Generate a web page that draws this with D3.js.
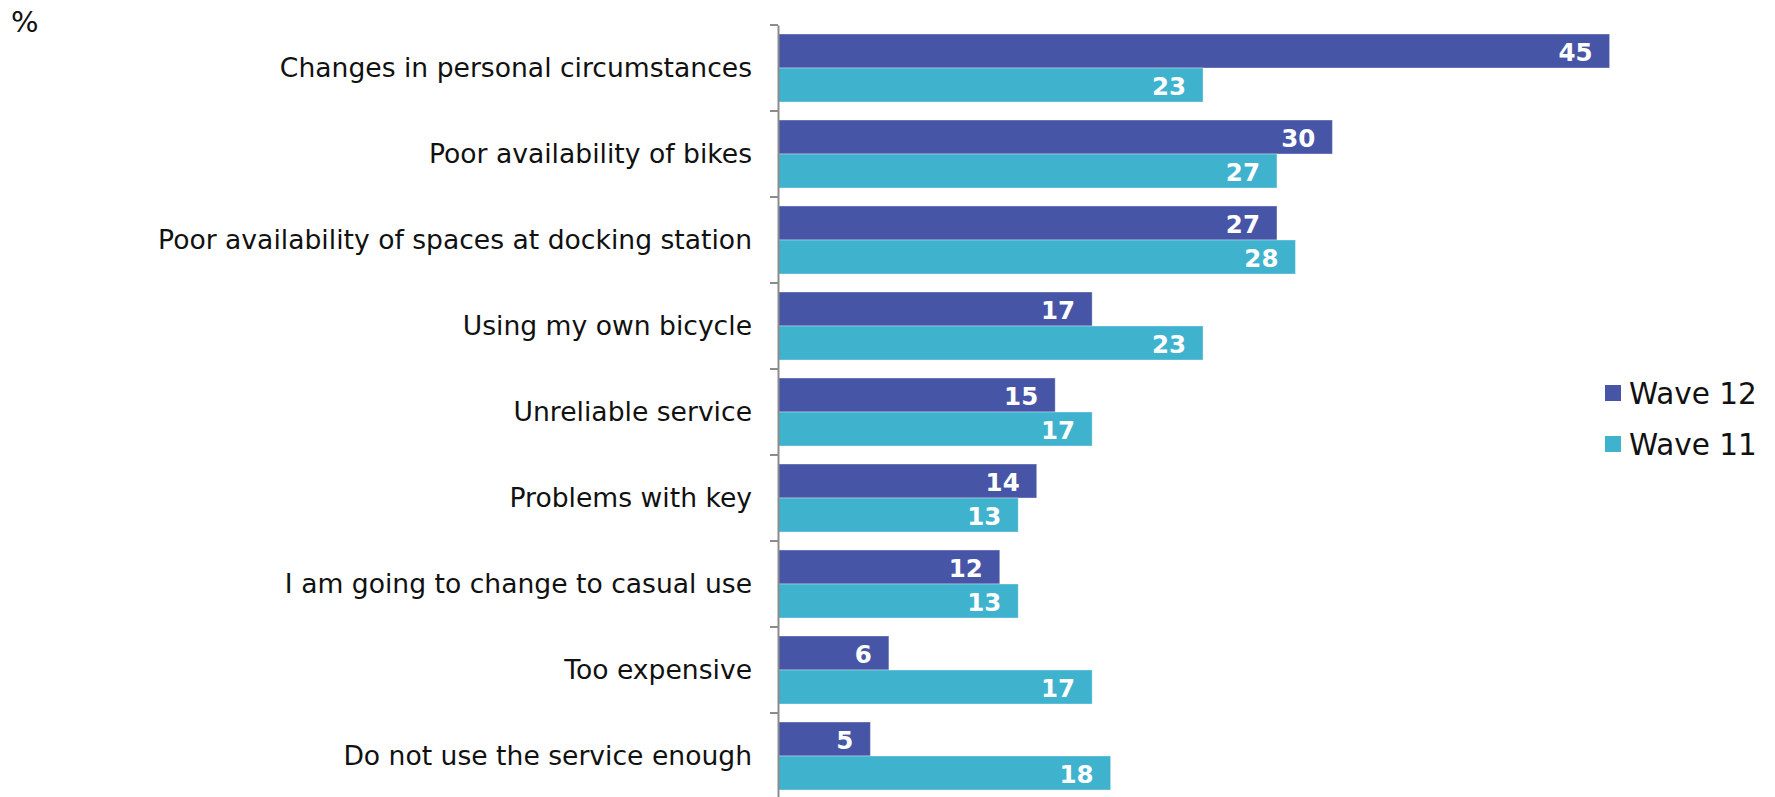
<!DOCTYPE html>
<html><head><meta charset="utf-8">
<script src="https://cdn.jsdelivr.net/npm/d3@7"></script>
<style>body{margin:0;background:#fff}svg{display:block}</style>
</head><body>
<script>
const categories = ["Changes in personal circumstances","Poor availability of bikes","Poor availability of spaces at docking station","Using my own bicycle","Unreliable service","Problems with key","I am going to change to casual use","Too expensive","Do not use the service enough"];
const seriesNames = ["Wave 12","Wave 11"];
const wave12 = [45,30,27,17,15,14,12,6,5];
const wave11 = [23,27,28,23,17,13,13,17,18];
const colors = ["#4755A6","#3FB2CE"];

const W=1775,H=797;
const svg=d3.select("body").append("svg").attr("width",W).attr("height",H);
const font="DejaVu Sans, Verdana, sans-serif";
const x0=778;
const x=d3.scaleLinear().domain([0,45]).range([x0,x0+45*18.48]);
const y=d3.scaleBand().domain(categories).range([25,25+86*9]).padding(0);
const ys=d3.scaleBand().domain(seriesNames).range([0,y.bandwidth()]).paddingInner(0).paddingOuter(0.265);

const data=categories.map((c,i)=>({cat:c,vals:[wave12[i],wave11[i]]}));
const g=svg.append("g");
data.forEach(d=>{
  d.vals.forEach((v,j)=>{
    const yy=y(d.cat)+ys(seriesNames[j]);
    g.append("rect").attr("x",x(0)).attr("y",yy).attr("width",x(v)-x(0)).attr("height",ys.bandwidth())
      .attr("fill",colors[j]).attr("stroke","rgba(255,255,255,0.35)").attr("stroke-width",1);
    g.append("text").attr("x",x(v)-17).attr("y",yy+ys.bandwidth()/2+1).attr("dy","0.36em")
      .attr("text-anchor","end").attr("fill","#fff").attr("font-family",font).attr("font-weight","bold")
      .attr("font-size",24.5).text(v);
  });
});

const axis=d3.axisLeft(y).tickSize(0).tickPadding(26);
const ag=svg.append("g").attr("transform",`translate(${x0},0)`).call(axis);
ag.select(".domain").attr("stroke","#8c8c8c").attr("stroke-width",2);
ag.selectAll("text").attr("font-family",font).attr("font-size",26.6).attr("fill","#111");
const bounds=categories.map(c=>y(c));
svg.append("g").selectAll("line").data(bounds).join("line")
  .attr("x1",x0-8).attr("x2",x0).attr("y1",d=>d).attr("y2",d=>d)
  .attr("stroke","#8c8c8c").attr("stroke-width",2);

svg.append("text").attr("x",11).attr("y",32).attr("font-family",font).attr("font-size",29).attr("fill","#111").text("%");

const lg=svg.append("g");
seriesNames.forEach((s,i)=>{
  const yy=385+i*51;
  lg.append("rect").attr("x",1605).attr("y",yy).attr("width",16).attr("height",16).attr("fill",colors[i]);
  lg.append("text").attr("x",1629).attr("y",yy+8).attr("dy","0.36em").attr("font-family",font)
    .attr("font-size",29.5).attr("fill","#111").text(s);
});
</script>
</body></html>
